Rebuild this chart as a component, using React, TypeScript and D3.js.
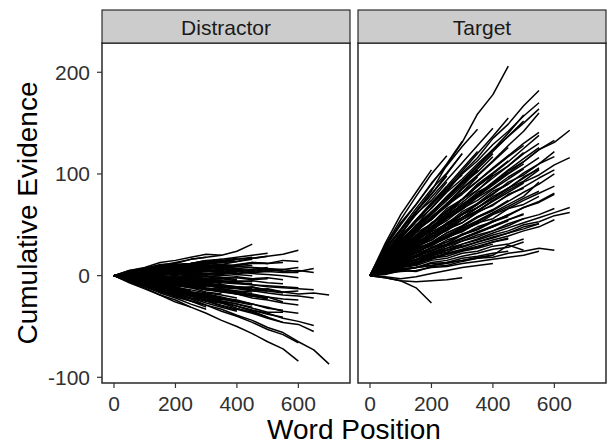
import * as d3 from 'd3';

// y values sampled every STEP words along each walk
const STEP = 50;

const panels = ['Distractor', 'Target'];
const xTicks = [0, 200, 400, 600];
const yTicks = [-100, 0, 100, 200];

const distractorWalks: number[][] = [
  [0, 5, 8, 13, 15, 18, 21, 20, 24, 31],
  [0, 3, 7, 8, 11, 12, 14, 15, 14, 17, 19, 21, 25],
  [0, 2, 4, 7, 5, 7, 9, 6, 9, 8, 6, 4, 5, 3],
  [0, 2, 3, 1, 4, 6, 5, 3, 4, 2, 1, 0, -2],
  [0, -1, 1, -2, -3, -5, -3, -6, -7, -9, -10, -11, -12],
  [0, -2, -4, -6, -8, -10, -14, -15, -18, -22, -24, -27, -29],
  [0, -3, -7, -10, -13, -18, -21, -26, -30, -35, -41],
  [0, -4, -8, -13, -16, -20, -25, -27, -32, -36, -41, -46, -48, -55],
  [0, -5, -10, -15, -19, -25, -29, -35, -40, -46, -53, -58, -66],
  [0, -6, -12, -19, -24, -31, -37, -44, -50, -57, -65, -72, -84],
  [0, -5, -10, -14, -19, -23, -29, -33, -39, -44, -51, -56, -65, -73, -87],
  [0, -4, -7, -11, -14, -18, -21, -25, -28, -32, -36, -36],
  [0, -2, -4, -5, -8, -9, -12, -14, -15, -18, -21, -26],
  [0, -1, -3, -2, -5, -6, -8, -9, -11, -12, -14],
  [0, -4, -9, -12, -17, -20, -25, -29, -33, -37, -42, -46],
  [0, 3, 5, 7, 10, 12, 15],
  [0, 2, 5, 4, 8, 9, 12, 14],
  [0, 1, 3, 2, 4, 6, 7, 8, 10],
  [0, 1, -1, 0, 2, 1, -1, 0, 1, 0],
  [0, -1, -2, -3, -4, -5],
  [0, -2, -3, -5, -6, -8, -10, -11, -12, -14, -15],
  [0, -2, -5, -8, -10, -12, -16, -18],
  [0, -3, -7, -10, -14, -18, -21, -25, -28, -31],
  [0, -4, -9, -13, -18, -22, -27, -31, -35],
  [0, -5, -10, -15, -21, -25, -31],
  [0, -3, -6, -9, -12, -16, -18, -21, -25, -28, -32, -34],
  [0, 2, 1, 3, 4, 3, 5, 6, 5, 6, 8],
  [0, 0, -1, -2, -1, -3, -4, -3, -5, -6],
  [0, 2, 3, 5, 7, 8, 10, 11],
  [0, 3, 6, 9, 12],
  [0, -4, -8, -12, -15, -20],
  [0, -2, -4, -7, -8, -10, -13, -14, -16, -19, -21, -23, -24],
  [0, 1, 2, 4, 5, 7, 8, 9, 10, 12, 12, 13],
  [0, -2, -5, -7, -9, -12, -13, -16, -18, -20, -23],
  [0, -1, -3, -4, -6, -7, -9, -10, -12],
  [0, -6, -11, -17, -22, -28, -33],
  [0, 2, 4, 6, 7, 9, 11, 13, 14, 16],
  [0, -1, -1, -2, -3, -4, -5, -5],
  [0, -4, -8, -11, -15, -19, -23, -26, -30, -34, -38, -41],
  [0, 1, 2, 2, 3, 4],
  [0, -3, -6, -10, -13, -16, -20, -23, -26],
  [0, 2, 4, 7, 9, 11, 14, 16, 18, 20, 22],
  [0, -1, -2, -3, -4, -5, -7, -7, -8, -9, -11, -12, -13, -14],
  [0, -3, -5, -8, -10],
  [0, 1, 0, 1, 2, 1, 2, 3, 2, 3, 4, 3, 3],
  [0, 4, 7, 10, 13, 16, 18, 20],
  [0, -7, -13, -19, -26, -31],
  [0, -2, 0, -3, -2, -4, -3, -6, -5],
  [0, 2, 1, 4, 3, 5, 7],
  [0, -3, -2, -6, -5, -9, -8, -11],
  [0, 1, 4, 3, 6, 5, 8, 10, 9],
  [0, -2, -1, -4, -3, -5],
  [0, 3, 2, 5, 8, 7, 10],
  [0, -5, -7, -12, -14, -19, -21, -24],
  [0, -1, 1, 0, -2, -1, 1, 0],
  [0, 4, 6, 9, 8, 12, 14, 13, 16, 18],
  [0, -3, -6, -5, -9, -11, -14, -13, -17],
  [0, 2, 0, 3, 1, 2, 4],
  [0, -4, -6, -10, -11, -15],
  [0, 1, 3, 5, 4, 6, 9, 8, 11, 13, 12],
  [0, -2, -5, -4, -8, -10, -9, -13, -15, -16],
  [0, -1, -3, -5, -4, -7, -9, -10, -12, -14, -15, -17],
  [0, 3, 4, 6, 9, 10, 12, 11, 14],
  [0, -6, -9, -14, -17, -22, -25, -30, -34],
  [0, 0, 2, 1, 3, 2, 4, 3, 5, 4, 6, 5],
  [0, -2, -4, -3, -6, -8, -7, -10, -12, -11, -14, -16, -15],
  [0, 2, 3, 1, 4, 2, 5],
  [0, -3, -5, -8, -7, -11, -13, -15, -18, -20, -22],
  [0, 4, 5, 8, 11, 10, 13, 15, 17],
  [0, -1, 0, -3, -2, -4, -6, -5, -7, -8],
  [0, -4, -7, -9, -13, -16, -18, -22, -24, -28, -31, -35, -37],
  [0, 1, -1, 2, 0, 3, 1, 2, 4, 3, 5, 6, 4, 7],
  [0, -2, -3, -6, -5, -8, -9, -12, -11, -14],
  [0, 5, 7, 11, 12, 16, 18],
  [0, -5, -8, -13, -15, -20, -22, -27, -30, -34, -37, -42, -45, -49],
  [0, 2, 1, 0, 2, -1, 0, -2, -1, -3, -2, -4],
  [0, -1, -4, -3, -6, -8, -10, -9, -12, -14, -13, -16, -18, -17, -19],
  [0, 3, 5, 4, 7, 6, 9, 11, 10, 13, 12, 15, 14],
  [0, 1, 3, 2, 5, 4, 6],
  [0, -2, -4, -3, -7, -6, -9, -10],
  [0, 0, -2, -1, -3, -2, -4, -3],
  [0, 3, 5, 7, 6, 9],
  [0, -3, -4, -7, -9, -10, -13],
  [0, 1, 2, 1, 3, 5, 4, 6, 7],
  [0, -1, -3, -2, -4, -6, -5, -8],
  [0, 2, 3, 5, 4, 6, 8, 7, 9, 10],
  [0, -4, -6, -9, -12, -14, -17, -19, -22],
  [0, 1, 0, 2, 1, 0, 2, 1, 3],
  [0, -2, -2, -4, -5, -7, -8, -10, -11, -13],
  [0, 2, 4, 3, 6, 8, 9, 11],
  [0, -3, -3, -5, -8, -9, -11],
  [0, 0, 1, -1, 0, -2, -1, -3, -2, -4, -3],
  [0, -5, -9, -13, -16, -20, -24, -27],
  [0, 3, 4, 7, 8, 11, 13, 14, 16, 17, 19],
  [0, -1, -2, -1, -3, -4, -3, -5, -6, -5, -7, -8],
  [0, 2, 2, 4, 3, 5, 6, 5, 7, 8, 7],
  [0, -3, -5, -7, -10, -11, -14, -16, -17, -20, -22],
  [0, -6, -10, -16, -20, -25, -29],
  [0, 1, 2, 3, 2, 4, 5, 4, 6, 5, 7, 6, 8],
  [0, -2, -3, -5, -7, -8, -10, -12, -13, -15, -17, -19, -20, -22],
  [0, 4, 6, 8, 11, 12, 15, 16],
  [0, -1, 1, -1, -2, 0, -3, -2, -4],
  [0, -4, -7, -11, -13, -17, -19, -23, -26, -29],
];

const targetWalks: number[][] = [
  [0, 21, 40, 63, 83, 109, 131, 159, 178, 206],
  [0, 16, 34, 49, 67, 83, 101, 116, 135, 149, 167, 182],
  [0, 14, 28, 43, 57, 71, 86, 99, 113, 128, 142, 160],
  [0, 15, 31, 46, 62, 78, 93, 108, 124, 140, 158],
  [0, 12, 24, 36, 48, 61, 72, 84, 96, 108, 120, 130],
  [0, 10, 20, 30, 40, 51, 60, 70, 81, 90, 101, 110, 122],
  [0, 8, 16, 25, 32, 40, 48, 57, 64, 73, 82, 90, 100],
  [0, 5, 10, 16, 21, 27, 31, 36, 42, 47, 52, 57, 62, 67],
  [0, 4, 9, 13, 18, 22, 26, 31, 35, 39, 44, 48, 55],
  [0, 7, 13, 20, 27, 33, 40, 46, 53, 60, 67, 73, 81],
  [0, 2, 5, 8, 10, 13, 15, 18, 20, 30, 25],
  [0, -2, -5, -12, -27],
  [0, 8, 15, 23, 31, 39, 47, 54, 62, 70, 78, 92],
  [0, 9, 19, 28, 38, 47, 57, 67, 76, 86, 96, 106],
  [0, 30, 55, 78, 100, 118],
  [0, 32, 60, 82, 104],
  [0, 25, 45, 63, 80, 100, 120],
  [0, 20, 38, 55, 72, 88, 105, 122],
  [0, 18, 33, 48, 62, 76, 91, 105, 120],
  [0, 15, 30, 44, 58, 70, 85, 98, 112, 126],
  [0, 14, 27, 39, 51, 63, 75],
  [0, 12, 22, 32, 41, 50],
  [0, 11, 21, 31, 41, 50, 61, 70, 80],
  [0, 9, 16, 23, 30, 37, 44, 52],
  [0, 7, 13, 19, 25, 30, 36, 42, 48, 54],
  [0, 6, 11, 16, 20, 25, 30],
  [0, 4, 8, 12, 16],
  [0, 10, 19, 28, 37, 46, 55, 64, 73, 82, 91],
  [0, 12, 23, 34, 45, 56, 67, 78, 89, 100, 110],
  [0, 3, 5, 8, 10, 12, 15, 17, 20],
  [0, 17, 32, 46, 60, 74, 88, 104],
  [0, 8, 16, 23, 31, 38, 46, 53, 61, 68, 76, 83],
  [0, 19, 37, 54, 70, 86, 103, 120, 137, 155],
  [0, 20, 37, 53, 70, 88],
  [0, 28, 50, 70, 90, 110, 132],
  [0, 14, 27, 39, 51, 63, 75, 88, 100],
  [0, 7, 13, 19, 25, 31, 37, 43, 49, 55, 60],
  [0, 11, 21, 31, 41, 50, 60, 70],
  [0, 5, 9, 13, 17, 21, 25, 29, 33, 37],
  [0, -2, -5, -6, -5, -4, -2],
  [0, -1, -3, -1, 2, 5, 8, 10, 12],
  [0, 13, 26, 38, 50, 63, 75, 88, 100, 112, 125, 138],
  [0, 17, 32, 47, 62, 77, 92, 107, 122, 137, 152],
  [0, 17, 33, 48, 62],
  [0, 23, 42, 60, 77, 94, 111, 128, 145],
  [0, 13, 25, 36, 48, 58, 70, 80, 92, 104, 115, 126],
  [0, 6, 12, 19, 24, 30, 36, 43, 48, 55, 61],
  [0, 2, 4, 5, 8, 9, 12, 14, 16, 18, 20, 24],
  [0, 13, 22, 36, 44, 57, 66, 80],
  [0, 9, 20, 26, 38, 44, 55, 63, 74],
  [0, 18, 29, 45, 55, 70, 82],
  [0, 6, 14, 18, 27, 31, 40, 45, 53, 58],
  [0, 24, 40, 61, 74, 92],
  [0, 11, 18, 29, 35, 46, 52, 63, 69, 80, 86],
  [0, 4, 11, 13, 20, 23, 29, 33, 38, 42, 48, 51],
  [0, 15, 28, 37, 52, 60, 75, 84, 98, 108, 121],
  [0, 8, 17, 22, 31, 37, 45, 51, 60, 66, 74, 81, 88],
  [0, 20, 33, 50, 62, 77, 91, 104],
  [0, 10, 16, 27, 32, 42, 49, 58, 64],
  [0, 3, 9, 11, 17, 19, 24, 27, 31],
  [0, 16, 27, 42, 51, 66, 75, 90, 101, 113],
  [0, 12, 21, 33, 40, 52, 60, 71, 80, 92, 99, 110, 117],
  [0, 7, 11, 18, 22, 29, 34, 40, 44, 51, 56],
  [0, 27, 46, 66, 85, 101, 120],
  [0, 14, 24, 37, 46, 58, 68, 80, 90, 101, 112, 124, 133],
  [0, 5, 8, 14, 16, 21, 25, 28, 33, 36],
  [0, 9, 15, 24, 29, 38, 43, 52, 56, 66, 70, 78],
  [0, 21, 36, 53, 66, 82, 95, 110, 124, 137, 150, 164],
  [0, 11, 20, 30, 38, 47, 57, 64, 74, 84, 92, 99, 109, 116],
  [0, 2, 7, 8, 13, 15, 19, 22, 26, 28, 33],
  [0, 19, 30, 46, 56, 71, 82, 97],
  [0, 13, 20, 32, 38, 50, 57, 67, 76, 86, 93, 104],
  [0, 6, 13, 16, 23, 27, 34, 38, 44, 49, 56, 60, 66],
  [0, 1, 5, 4, 9, 10, 14, 17, 18, 22, 24, 27, 25],
  [0, 17, 25, 39, 47, 60, 69, 82, 90, 103, 112, 124, 131, 143],
  [0, 10, 22, 29, 41, 48, 60, 67, 78, 86, 97, 105],
  [0, 15, 27, 40, 51, 64, 75, 88, 99],
  [0, 22, 38, 55, 70, 86, 99],
  [0, 8, 14, 22, 27, 35, 40, 48, 53, 60],
  [0, 12, 25, 33, 45, 54, 66, 74, 85, 95, 105],
  [0, 26, 44, 63, 80, 98],
  [0, 6, 10, 15, 19, 25, 28, 33, 37, 42, 46, 51],
  [0, 17, 29, 44, 55, 69, 80, 93, 105, 117, 128],
  [0, 10, 18, 28, 35, 45, 52, 62, 70, 79, 87, 96, 104],
  [0, 19, 35, 48, 63, 76, 90, 102, 117],
  [0, 4, 8, 10, 15, 17, 22, 24, 29, 31, 36],
  [0, 14, 26, 36, 48, 58, 70, 79, 91, 101],
  [0, 9, 17, 26, 33, 42, 49, 58, 65, 74],
  [0, 21, 39, 54, 70, 84, 100, 113, 129, 142, 157, 170],
  [0, 11, 23, 31, 43, 51, 63, 71, 83, 90],
  [0, 3, 6, 8, 12, 13, 17, 19, 22, 24],
  [0, 16, 31, 43, 57, 68, 82, 93, 106, 118, 130, 141],
  [0, 7, 15, 20, 28, 33, 41, 46, 54, 59, 67, 72, 80],
  [0, 29, 52, 70, 91, 108, 127, 144],
  [0, 13, 23, 35, 44, 56, 65, 77, 86, 97, 106, 116],
  [0, 5, 12, 15, 22, 25, 31, 35, 40, 44, 50, 53, 59, 62],
];

const walksByPanel = [distractorWalks, targetWalks];

const W = 608;
const H = 445;
const panelLeft = [102, 358];
const panelW = 248;
const top = 43;
const bottom = 383;
const stripTop = 10;

export default function App() {
  const y = d3.scaleLinear().domain([-105.6, 228.8]).range([bottom, top]);
  const font = 'Liberation Sans, Arial, sans-serif';

  return (
    <svg width={W} height={H} style={{ display: 'block', position: 'absolute', left: 0, top: 0 }}>
      <rect width={W} height={H} fill="#fff" />
      {panels.map((name, p) => {
        const x = d3.scaleLinear().domain([-39, 768]).range([panelLeft[p], panelLeft[p] + panelW]);
        const line = d3.line<number>()
          .x((_, i) => x(i * STEP))
          .y(d => y(d));
        return (
          <g key={name}>
            {walksByPanel[p].map((w, i) => (
              <path key={i} d={line(w) || ''} fill="none" stroke="#000" strokeWidth={1.5} strokeLinejoin="round" />
            ))}
            <rect x={panelLeft[p]} y={top} width={panelW} height={bottom - top}
              fill="none" stroke="#1a1a1a" strokeWidth={1.4} />
            <rect x={panelLeft[p]} y={stripTop} width={panelW} height={top - stripTop}
              fill="#cccccc" stroke="#1a1a1a" strokeWidth={1.1} />
            <text x={panelLeft[p] + panelW / 2} y={35} textAnchor="middle"
              fontFamily={font} fontSize={21} fill="#1a1a1a">{name}</text>
            {xTicks.map(t => (
              <g key={t}>
                <line x1={x(t)} x2={x(t)} y1={bottom} y2={bottom + 5} stroke="#333" strokeWidth={1.2} />
                <text x={x(t)} y={411} textAnchor="middle" fontFamily={font} fontSize={21} fill="#303030">{t}</text>
              </g>
            ))}
          </g>
        );
      })}
      {yTicks.map(t => (
        <g key={t}>
          <line x1={97} x2={102} y1={y(t)} y2={y(t)} stroke="#333" strokeWidth={1.2} />
          <text x={90} y={y(t) + 7.5} textAnchor="end" fontFamily={font} fontSize={21} fill="#303030">{t}</text>
        </g>
      ))}
      <text x={354} y={439} textAnchor="middle" fontFamily={font} fontSize={28} fill="#000">Word Position</text>
      <text transform={`translate(37,${(top + bottom) / 2}) rotate(-90)`} textAnchor="middle"
        fontFamily={font} fontSize={28} fill="#000">Cumulative Evidence</text>
    </svg>
  );
}
